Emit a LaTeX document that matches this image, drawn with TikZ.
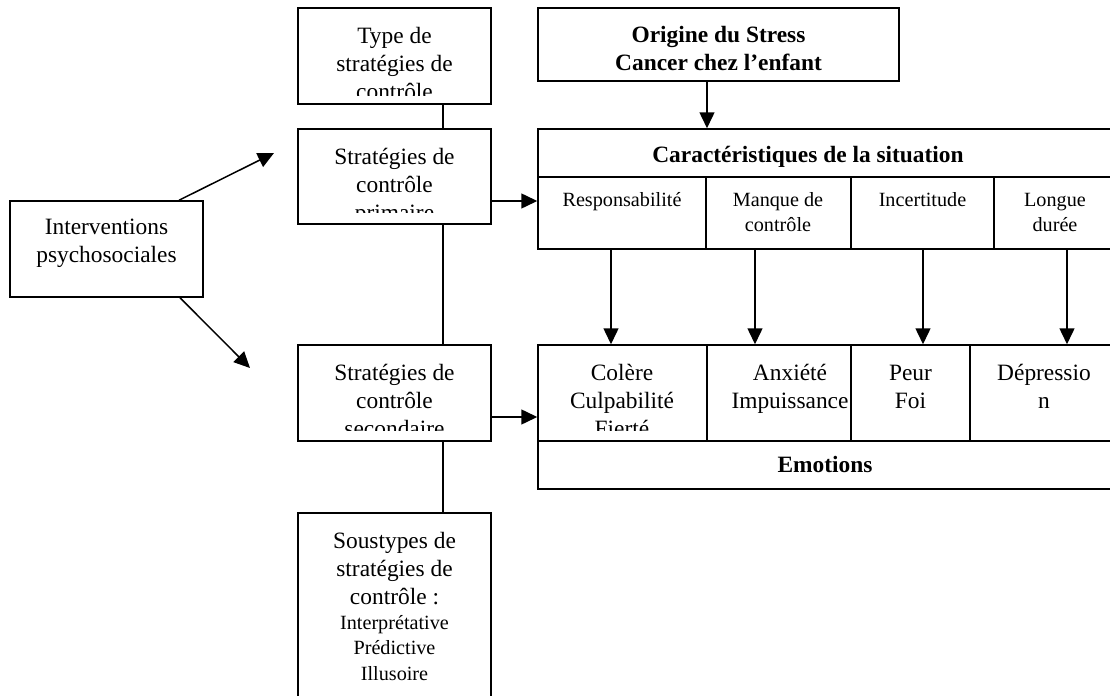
\documentclass[tikz,border=0pt]{standalone}
\usepackage{fontspec}
\setmainfont{Liberation Serif}
\usetikzlibrary{arrows.meta,fit}

\begin{document}
% text nodes are anchored at the baseline of their last line
\begin{tikzpicture}[x=0.5pt,y=-0.5pt,
  frame/.style={draw, line width=0.75pt, inner sep=0pt},
  txt/.style={align=center, inner sep=0pt, anchor=base, font=\fontsize{11.7}{14}\selectfont},
  small/.style={align=center, inner sep=0pt, anchor=base, font=\fontsize{10.1}{12.9}\selectfont},
  head/.style={align=center, inner sep=0pt, anchor=base, font=\fontsize{11.7}{14}\selectfont\bfseries},
  link/.style={line width=0.75pt},
  arr/.style={link, -{Triangle[length=8pt,width=7.5pt]}}]

\useasboundingbox (0,0) rectangle (1110,696);
\fill[white] (0,0) rectangle (1110,696);
\clip (0,0) rectangle (1110,696);

% ---- left column: control strategies ----
\node[frame, fit={(298,8) (491,104)}] (type) {};
\begin{scope}
  \clip (298,8) rectangle (491,95);
  \node[txt] (typeT) at (394.5,99) {Type de\\stratégies de\\contrôle};
\end{scope}

\node[frame, fit={(298,129) (491,224)}] (prim) {};
\begin{scope}
  \clip (298,129) rectangle (491,212);
  \node[txt] (primT) at (394.5,220) {Stratégies de\\contrôle\\primaire};
\end{scope}

\node[frame, fit={(298,345) (491,441)}] (sec) {};
\begin{scope}
  \clip (298,345) rectangle (491,430);
  \node[txt] (secT) at (394.5,436) {Stratégies de\\contrôle\\secondaire};
\end{scope}

\node[frame, fit={(298,513) (491,720)}] (sous) {};
\node[txt] (sousT) at (394.5,604) {Soustypes de\\stratégies de\\contrôle :};
\node[small] (sousL) at (394.5,680.6) {Interprétative\\Prédictive\\Illusoire};

\coordinate (spine) at (443,0);
\draw[link] (spine |- type.south) -- (spine |- prim.north);
\draw[link] (spine |- prim.south) -- (spine |- sec.north);
\draw[link] (spine |- sec.south) -- (spine |- sous.north);

% ---- interventions ----
\node[frame, fit={(10,201) (203,297)}] (interv) {};
\node[txt] (intervT) at (106.5,262) {Interventions\\psychosociales};
\coordinate (upTip) at (274,153);
\coordinate (downTip) at (250,368);
\draw[arr] (interv.north -| 179,0) -- (upTip);
\draw[arr] (interv.south -| 180,0) -- (downTip);

% ---- stress origin ----
\node[frame, fit={(538,8) (899,81)}] (orig) {};
\node[head] (origT) at (718.5,70) {Origine du Stress\\Cancer chez l’enfant};

% ---- situation characteristics table ----
\node[frame, fit={(538,129) (1116,177)}] (carHead) {};
\node[head] (carHeadT) at (808,162) {Caractéristiques de la situation};
\node[frame, fit={(538,177) (706,249)}] (resp) {};
\node[frame, fit={(706,177) (851,249)}] (manq) {};
\node[frame, fit={(851,177) (994,249)}] (inc) {};
\node[frame, fit={(994,177) (1116,249)}] (long) {};
\node[small] (respT) at (622,206) {Responsabilité};
\node[small] (manqT) at (778,231.8) {Manque de\\contrôle};
\node[small] (incT) at (922.5,206) {Incertitude};
\node[small] (longT) at (1055,231.8) {Longue\\durée};

% ---- emotions table ----
\node[frame, fit={(538,345) (707,441)}] (col) {};
\node[frame, fit={(707,345) (851,441)}] (anx) {};
\node[frame, fit={(851,345) (970,441)}] (peur) {};
\node[frame, fit={(970,345) (1116,441)}] (dep) {};
\node[frame, fit={(538,441) (1116,489)}] (emoHead) {};
\begin{scope}
  \clip (538,345) rectangle (707,430);
  \node[txt] (colT) at (622,436) {Colère\\Culpabilité\\Fierté};
\end{scope}
\node[txt] (anxT) at (790,408) {Anxiété\\Impuissance};
\node[txt] (peurT) at (910.5,408) {Peur\\Foi};
\node[txt] (depT) at (1044,408) {Dépressio\\n};
\node[head] (emoHeadT) at (825,472) {Emotions};

% ---- connectors ----
\coordinate (rowP) at (0,201);
\coordinate (rowS) at (0,417);
\draw[arr] (prim.east |- rowP) -- (resp.west |- rowP);
\draw[arr] (sec.east |- rowS) -- (col.west |- rowS);
\coordinate (c0) at (707,0);
\draw[arr] (orig.south -| c0) -- (carHead.north -| c0);
\coordinate (c1) at (611,0);
\coordinate (c2) at (755,0);
\coordinate (c3) at (923,0);
\coordinate (c4) at (1067,0);
\draw[arr] (c1 |- resp.south) -- (c1 |- col.north);
\draw[arr] (c2 |- manq.south) -- (c2 |- anx.north);
\draw[arr] (c3 |- inc.south) -- (c3 |- peur.north);
\draw[arr] (c4 |- long.south) -- (c4 |- dep.north);
\end{tikzpicture}
\end{document}
